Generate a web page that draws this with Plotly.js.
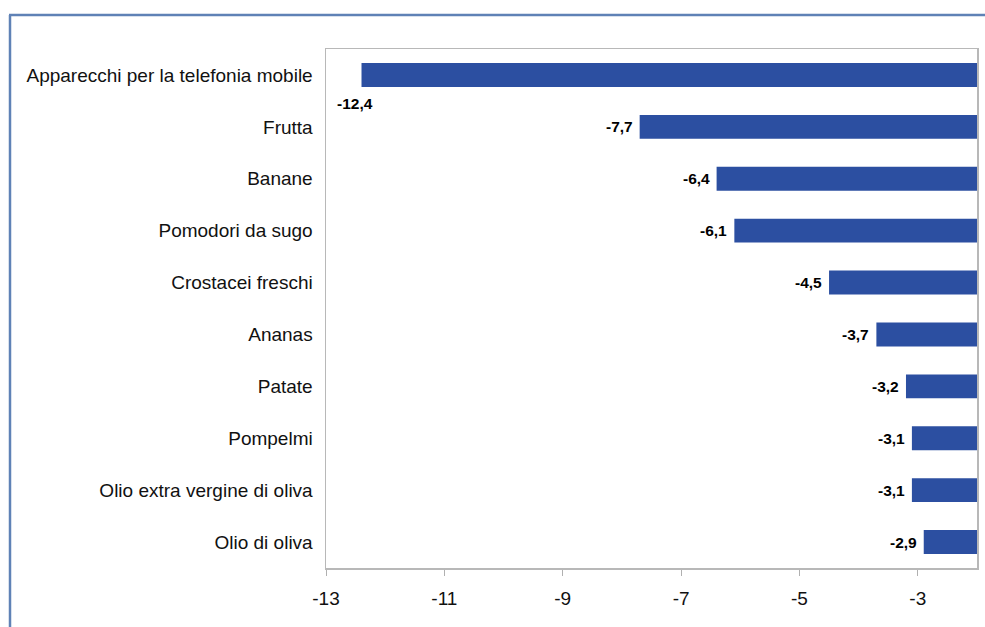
<!DOCTYPE html>
<html>
<head>
<meta charset="utf-8">
<script src="https://cdn.plot.ly/plotly-3.0.1.min.js"></script>
<style>
  html, body { margin: 0; padding: 0; background: #ffffff; }
  #chart { width: 985px; height: 627px; }
</style>
</head>
<body>
<div id="chart"></div>
<script>
// ---- Data ----
var categories = [
  "Apparecchi per la telefonia mobile",
  "Frutta",
  "Banane",
  "Pomodori da sugo",
  "Crostacei freschi",
  "Ananas",
  "Patate",
  "Pompelmi",
  "Olio extra vergine di oliva",
  "Olio di oliva"
];
var values = [-12.4, -7.7, -6.4, -6.1, -4.5, -3.7, -3.2, -3.1, -3.1, -2.9];
var tickValues = [-13, -11, -9, -7, -5, -3];
var tickLabels = ["-13", "-11", "-9", "-7", "-5", "-3"];
var axisMin = -13;
var axisMax = -2;

// ---- Build ----
var barColor = "#2C4FA1";
var frameColor = "#5F82B6";

var trace = {
  type: "bar",
  orientation: "h",
  y: categories,
  x: values.map(function (v) { return v - axisMax; }),
  base: values.map(function () { return axisMax; }),
  width: 0.46,
  marker: { color: barColor, line: { width: 0 } },
  hoverinfo: "skip"
};

function fmt(v) { return String(v).replace(".", ","); }

var annotations = values.map(function (v, i) {
  var a = {
    x: v, y: categories[i], xref: "x", yref: "y",
    text: "<b>" + fmt(v) + "</b>",
    showarrow: false,
    font: { family: "Liberation Sans, Arial, sans-serif", size: 15.5, color: "#000000" },
    xanchor: "right", yanchor: "middle", xshift: -5
  };
  if (v <= axisMin + 1) {
    // label doesn't fit left of the bar: place below, at the plot's left edge
    a.x = axisMin; a.xanchor = "left"; a.xshift = 9; a.yshift = -29;
  }
  return a;
});

// plot area in pixels
var L = 326, R = 977, T = 49, B = 568, W = 985, H = 627;
var pw = R - L, ph = B - T;
function px(x) { return (x - L) / pw; }
function py(y) { return (B - y) / ph; }

var layout = {
  width: W, height: H,
  margin: { l: L, r: W - R, t: T, b: H - B, pad: 0 },
  paper_bgcolor: "#ffffff",
  plot_bgcolor: "#ffffff",
  showlegend: false,
  font: { family: "Liberation Sans, Arial, sans-serif", size: 19, color: "#111111" },
  xaxis: {
    range: [axisMin, axisMax],
    tickmode: "array",
    tickvals: tickValues,
    ticktext: tickLabels,
    ticks: "outside", ticklen: 6, tickcolor: "#b0b0b0", tickwidth: 1,
    ticklabelstandoff: 7,
    showgrid: false, zeroline: false,
    showline: true, linecolor: "#b8b8b8", linewidth: 1.5, mirror: true,
    tickfont: { size: 19, color: "#111111" },
    fixedrange: true
  },
  yaxis: {
    type: "category",
    range: [categories.length - 0.5, -0.5],
    ticks: "", showgrid: false, zeroline: false,
    showline: true, linecolor: "#b8b8b8", linewidth: 1.5, mirror: true,
    ticklabelstandoff: 8,
    tickfont: { size: 19, color: "#111111" },
    fixedrange: true
  },
  annotations: annotations,
  shapes: [
    { type: "line", xref: "paper", yref: "paper",
      x0: px(10), x1: px(10), y0: py(640), y1: py(15),
      line: { color: frameColor, width: 2.5 } },
    { type: "line", xref: "paper", yref: "paper",
      x0: px(9), x1: px(1000), y0: py(15), y1: py(15),
      line: { color: frameColor, width: 2.5 } }
  ]
};

Plotly.newPlot("chart", [trace], layout, { displayModeBar: false, staticPlot: true });
</script>
</body>
</html>
